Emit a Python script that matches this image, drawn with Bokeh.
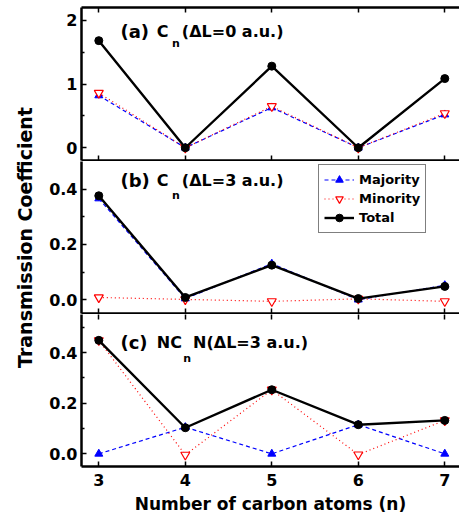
import math
from bokeh.plotting import figure
from bokeh.layouts import column, row
from bokeh.models import (Range1d, LinearAxis, FixedTicker, Label, Legend, LegendItem)
from bokeh.embed import file_html
from bokeh.resources import INLINE

# ---------------- data ----------------
n_atoms = [3, 4, 5, 6, 7]
x_tick_labels = ["3", "4", "5", "6", "7"]

a_majority = [0.82, 0.0, 0.63, 0.0, 0.52]
a_minority = [0.86, 0.0, 0.65, 0.0, 0.54]
a_total = [1.68, 0.0, 1.28, 0.0, 1.085]

b_majority = [0.366, 0.004, 0.13, 0.0, 0.052]
b_minority = [0.008, 0.001, -0.006, 0.003, -0.006]
b_total = [0.376, 0.008, 0.125, 0.004, 0.048]

c_majority = [0.0, 0.105, 0.0, 0.115, 0.0]
c_minority = [0.448, -0.004, 0.253, -0.003, 0.132]
c_total = [0.448, 0.103, 0.253, 0.115, 0.132]

a_ticks = [0, 1, 2]
a_tick_labels = ["0", "1", "2"]
bc_ticks = [0, 0.2, 0.4]
bc_tick_labels = ["0.0", "0.2", "0.4"]

legend_labels = ["Majority", "Minority", "Total"]
y_title = "Transmission Coefficient"
x_title = "Number of carbon atoms (n)"

FONT = "DejaVu Sans"
XR = (2.8, 7.17)


def make_panel(height, yr, ticks, tick_labels, minor, top, bottom, above_axis, above_line, x_labels):
    p = figure(width=419, height=height, x_range=Range1d(*XR), y_range=Range1d(*yr),
               output_backend="svg", toolbar_location=None, x_axis_location=None,
               y_axis_location=None, min_border_left=41, min_border_right=0,
               min_border_top=top, min_border_bottom=bottom)
    p.outline_line_color = None
    p.grid.visible = False
    p.background_fill_color = "white"
    p.border_fill_color = "white"

    ya = LinearAxis(ticker=FixedTicker(ticks=ticks, minor_ticks=minor))
    ya.major_label_overrides = {t: l for t, l in zip(ticks, tick_labels)}
    ya.major_label_text_font = FONT
    ya.major_label_text_font_style = "bold"
    ya.major_label_text_font_size = "16px"
    ya.major_label_text_color = "black"
    ya.major_label_standoff = 4
    ya.axis_line_width = 2.5
    ya.axis_line_color = "black"
    ya.major_tick_in = 5
    ya.major_tick_out = 0
    ya.minor_tick_in = 3
    ya.minor_tick_out = 0
    ya.major_tick_line_width = 1.5
    ya.minor_tick_line_width = 1.5
    p.add_layout(ya, "left")

    xa = LinearAxis(ticker=FixedTicker(ticks=n_atoms, minor_ticks=[]))
    xa.axis_line_width = 2.5
    xa.axis_line_color = "black"
    xa.major_tick_in = 5
    xa.major_tick_out = 0
    xa.major_tick_line_width = 1.5
    if x_labels:
        xa.major_label_overrides = {t: l for t, l in zip(n_atoms, x_tick_labels)}
        xa.major_label_text_font = FONT
        xa.major_label_text_font_style = "bold"
        xa.major_label_text_font_size = "16px"
        xa.major_label_text_color = "black"
        xa.major_label_standoff = 7
        xa.axis_label = x_title
        xa.axis_label_text_font = FONT
        xa.axis_label_text_font_style = "bold"
        xa.axis_label_text_font_size = "17px"
        xa.axis_label_text_color = "black"
        xa.axis_label_standoff = 5
    else:
        xa.major_label_text_font_size = "0px"
        xa.major_label_text_color = None
        xa.major_label_standoff = 0
    p.add_layout(xa, "below")

    if above_axis:
        ta = LinearAxis(ticker=FixedTicker(ticks=n_atoms, minor_ticks=[]))
        ta.major_label_text_font_size = "0px"
        ta.major_label_text_color = None
        ta.major_label_standoff = 0
        ta.major_tick_in = 5
        ta.major_tick_out = 0
        ta.major_tick_line_width = 1.5
        if above_line:
            ta.axis_line_width = 2.5
            ta.axis_line_color = "black"
        else:
            ta.axis_line_color = None
        p.add_layout(ta, "above")
    return p


def draw_series(p, maj, mino, tot):
    l1 = p.line(n_atoms, maj, line_color="blue", line_width=1.2, line_dash="4 3")
    s1 = p.scatter(n_atoms, maj, marker="triangle", size=8, fill_color="blue", line_color="blue")
    l2 = p.line(n_atoms, mino, line_color="red", line_width=1.2, line_dash="1 3")
    s2 = p.scatter(n_atoms, mino, marker="inverted_triangle", size=9, fill_color="white",
                   line_color="red", line_width=1.2)
    l3 = p.line(n_atoms, tot, line_color="black", line_width=2.4)
    s3 = p.scatter(n_atoms, tot, marker="circle", size=8, fill_color="black", line_color="black")
    return [(l1, s1), (l2, s2), (l3, s3)]


def add_title(p, letter, x_letter, prefix, x_prefix, x_sub, suffix, x_suffix, y_main, y_sub):
    kw = dict(text_font=FONT, text_font_style="bold", text_color="black", text_baseline="middle")
    p.add_layout(Label(x=x_letter, y=y_main, text=letter, text_font_size="18px", **kw))
    p.add_layout(Label(x=x_prefix, y=y_main, text=prefix, text_font_size="16px", **kw))
    p.add_layout(Label(x=x_sub, y=y_sub, text="n", text_font_size="11px", **kw))
    p.add_layout(Label(x=x_suffix, y=y_main, text=suffix, text_font_size="16px", **kw))


# panel (a)
pa = make_panel(161, (-0.2, 2.2), a_ticks, a_tick_labels, [0.5, 1.5], 7, 1, True, True, False)
draw_series(pa, a_majority, a_minority, a_total)
add_title(pa, "(a)", 3.25, "C", 3.67, 3.845, "(\u0394L=0 a.u.)", 3.96, 1.82, 1.63)

# panel (b)
pb = make_panel(153, (-0.05, 0.5), bc_ticks, bc_tick_labels, [0.1, 0.3], 0, 1, False, False, False)
rb = draw_series(pb, b_majority, b_minority, b_total)
add_title(pb, "(b)", 3.25, "C", 3.67, 3.845, "(\u0394L=3 a.u.)", 3.96, 0.43, 0.376)
leg = Legend(items=[LegendItem(label=lab, renderers=list(r)) for lab, r in zip(legend_labels, rb)],
             location=(237, 80))
leg.label_text_font = FONT
leg.label_text_font_style = "bold"
leg.label_text_font_size = "13px"
leg.label_text_color = "black"
leg.label_height = 19
leg.glyph_height = 19
leg.glyph_width = 30
leg.label_standoff = 5
leg.padding = 5
leg.spacing = 0
leg.margin = 0
leg.border_line_color = "black"
leg.border_line_width = 1
leg.background_fill_color = "white"
leg.background_fill_alpha = 1
pb.add_layout(leg)

# panel (c)
pc = make_panel(202, (-0.05, 0.55), bc_ticks, bc_tick_labels, [0.1, 0.3, 0.5], 0, 50, True, False, True)
draw_series(pc, c_majority, c_minority, c_total)
add_title(pc, "(c)", 3.25, "NC", 3.67, 3.975, "N(\u0394L=3 a.u.)", 4.09, 0.44, 0.377)

# y-axis title strip
py = figure(width=40, height=516, x_range=Range1d(0, 40), y_range=Range1d(0, 516),
            output_backend="svg", toolbar_location=None, x_axis_location=None,
            y_axis_location=None, min_border=0)
py.outline_line_color = None
py.grid.visible = False
py.add_layout(Label(x=24, y=279, text=y_title, angle=math.pi / 2, text_align="center",
                    text_baseline="middle", text_font=FONT, text_font_style="bold",
                    text_font_size="19px", text_color="black"))

layout = row(py, column(pa, pb, pc, spacing=0), spacing=0)
open("out.html", "w").write(file_html(layout, INLINE))
